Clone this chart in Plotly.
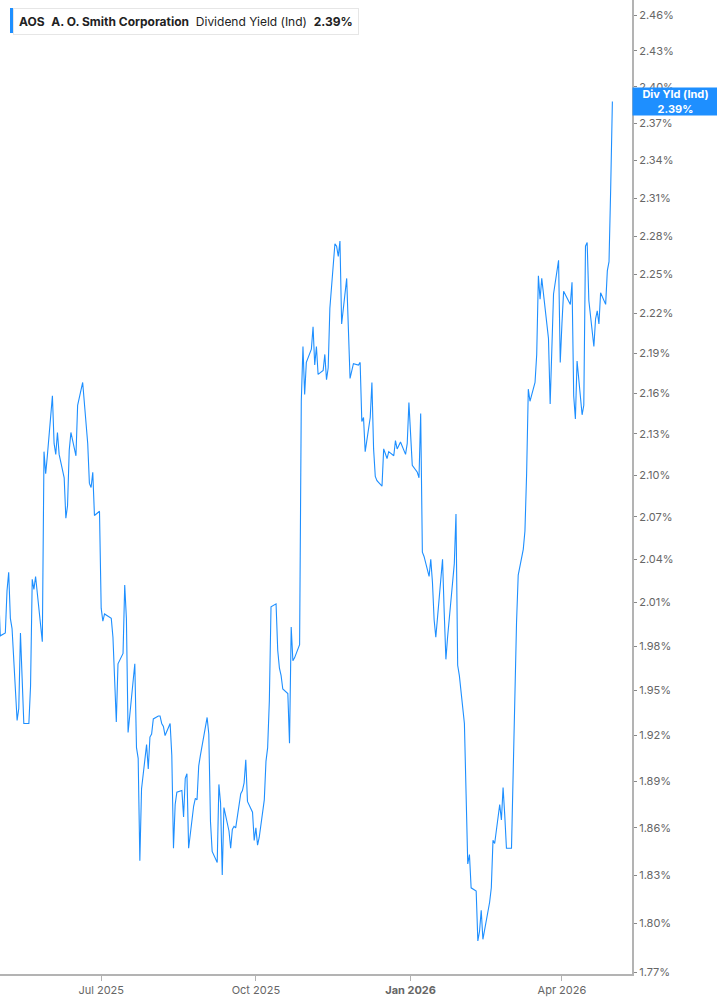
import numpy as np
import pandas as pd
import plotly.graph_objects as go

# trading days shown on the chart (NYSE calendar)
START = "2025-05-01"
END = "2026-05-01"
HOLIDAYS = [
    "2025-05-26", "2025-06-19", "2025-07-04", "2025-09-01", "2025-11-27",
    "2025-12-25", "2026-01-01", "2026-01-19", "2026-02-16", "2026-04-03",
]

# AOS indicated dividend yield, %, one value per trading day
div_yield = [
    2.017, 1.987, 1.989, 2.018, 2.031, 1.999, 1.992, 1.930, 1.938, 1.989, 1.958, 1.928,
    1.928, 1.953, 2.026, 2.019, 2.028, 1.983, 2.117, 2.101, 2.114, 2.158, 2.123, 2.115,
    2.131, 2.115, 2.098, 2.069, 2.078, 2.118, 2.131, 2.114, 2.151, 2.156, 2.168, 2.123,
    2.094, 2.091, 2.102, 2.071, 2.074, 2.006, 1.997, 2.002, 1.999, 1.986, 1.956, 1.929,
    1.968, 1.975, 2.022, 1.999, 1.922, 1.934, 1.968, 1.912, 1.905, 1.839, 1.885, 1.914,
    1.898, 1.919, 1.921, 1.931, 1.933, 1.933, 1.928, 1.926, 1.920, 1.928, 1.907, 1.847,
    1.875, 1.883, 1.884, 1.867, 1.892, 1.895, 1.847, 1.874, 1.879, 1.878, 1.900, 1.907,
    1.932, 1.921, 1.864, 1.845, 1.838, 1.888, 1.876, 1.830, 1.873, 1.858, 1.847, 1.859,
    1.861, 1.860, 1.882, 1.884, 1.889, 1.904, 1.877, 1.870, 1.852, 1.860, 1.849, 1.854,
    1.878, 1.903, 1.912, 1.943, 2.007, 2.009, 1.977, 1.965, 1.960, 1.951, 1.948, 1.915,
    1.993, 1.970, 1.972, 1.981, 2.154, 2.195, 2.159, 2.183, 2.193, 2.210, 2.181, 2.195,
    2.174, 2.177, 2.189, 2.170, 2.179, 2.224, 2.274, 2.272, 2.264, 2.276, 2.212, 2.247,
    2.204, 2.171, 2.182, 2.181, 2.183, 2.139, 2.142, 2.117, 2.142, 2.168, 2.119, 2.099,
    2.096, 2.092, 2.119, 2.115, 2.112, 2.117, 2.114, 2.125, 2.119, 2.124, 2.115, 2.123,
    2.153, 2.107, 2.102, 2.098, 2.145, 2.045, 2.042, 2.028, 2.040, 2.024, 1.998, 1.986,
    2.040, 2.003, 1.971, 1.986, 2.028, 2.037, 2.072, 1.967, 1.960, 1.928, 1.882, 1.837,
    1.843, 1.822, 1.820, 1.789, 1.795, 1.808, 1.790, 1.813, 1.822, 1.852, 1.850, 1.875,
    1.865, 1.886, 1.868, 1.847, 1.847, 1.900, 1.958, 1.996, 2.029, 2.047, 2.060, 2.101,
    2.163, 2.154, 2.168, 2.189, 2.249, 2.231, 2.247, 2.212, 2.201, 2.152, 2.198, 2.235,
    2.261, 2.183, 2.212, 2.237, 2.227, 2.244, 2.158, 2.141, 2.184, 2.144, 2.151, 2.272,
    2.275, 2.230, 2.195, 2.216, 2.222, 2.212, 2.236, 2.227, 2.253, 2.260, 2.318, 2.388,
]

y_ticks = [
    "1.77", "1.80", "1.83", "1.86", "1.89", "1.92", "1.95", "1.98", "2.01", "2.04",
    "2.07", "2.10", "2.13", "2.16", "2.19", "2.22", "2.25", "2.28", "2.31", "2.34",
    "2.37", "2.40", "2.43", "2.46",
]
x_ticks = ["2025-07-01", "2025-10-01", "2026-01-01", "2026-04-01"]
x_tick_text = ["Jul 2025", "Oct 2025", "<b>Jan 2026</b>", "Apr 2026"]

BLUE = "#1e8fff"
FONT = "Inter"

dates = pd.bdate_range(START, END, freq="C", holidays=HOLIDAYS)
assert len(dates) == len(div_yield)

W, H = 717, 1005
ML, MR, MT, MB = 0, 85, 0, 31
pw = W - ML - MR
ph = H - MT - MB

fig = go.Figure()
fig.add_trace(go.Scatter(
    x=dates, y=div_yield, mode="lines",
    line=dict(color=BLUE, width=1.1),
    hoverinfo="x+y", showlegend=False,
))

# log axis: 1.77% sits about 2px above the x axis line
px_per_decade = 6693
y_lo = np.log10(1.77) - 2 / px_per_decade
y_hi = y_lo + ph / px_per_decade

fig.update_layout(
    width=W, height=H,
    margin=dict(l=ML, r=MR, t=MT, b=MB),
    paper_bgcolor="white", plot_bgcolor="white",
    font=dict(family=FONT, color="#666", size=11),
    xaxis=dict(
        range=["2025-05-01 20:00", "2026-05-12 16:00"],
        tickvals=x_ticks, ticktext=x_tick_text,
        showgrid=False, zeroline=False,
        showline=True, linecolor="#b3b3b3", linewidth=2,
        ticks="outside", ticklen=5, tickcolor="#b3b3b3", tickwidth=1,
        tickfont=dict(size=11, color="#666"),
    ),
    yaxis=dict(
        type="log", side="right", range=[y_lo, y_hi],
        tickvals=[float(t) for t in y_ticks],
        ticktext=[t + "%" for t in y_ticks],
        showgrid=False, zeroline=False,
        showline=True, linecolor="#b3b3b3", linewidth=2,
        ticks="outside", ticklen=3, tickcolor="#888", tickwidth=1,
        tickfont=dict(size=11, color="#666"),
    ),
)

# legend box, top left
fig.add_annotation(
    xref="paper", yref="paper",
    x=13 / pw, y=1 - 8 / ph, xanchor="left", yanchor="top",
    text=("<b>AOS</b>  <b>A. O. Smith Corporation</b>  "
          "Dividend Yield (Ind)  <b>2.39%</b>"),
    showarrow=False, align="left",
    font=dict(family=FONT, size=12, color="#222"),
    bgcolor="white", bordercolor="#e6e6e6", borderwidth=1, borderpad=5,
)
fig.add_shape(
    type="rect", xref="paper", yref="paper",
    x0=10 / pw, x1=13 / pw, y0=1 - 33 / ph, y1=1 - 8 / ph,
    fillcolor=BLUE, line=dict(width=0),
)

# last value flag on the right axis
last = div_yield[-1]
fig.add_annotation(
    xref="paper", yref="y",
    x=1, y=np.log10(last), xanchor="left", yanchor="middle",
    text=f"<b>Div Yld (Ind)<br>{last:.2f}%</b>",
    showarrow=False, align="center",
    font=dict(family=FONT, size=11, color="white"),
    bgcolor=BLUE, borderpad=1, width=83, height=25,
)

fig.write_html(
    "out.html",
    config={"displayModeBar": False},
    post_script="document.body.style.margin='0';document.body.style.overflow='hidden';",
)
